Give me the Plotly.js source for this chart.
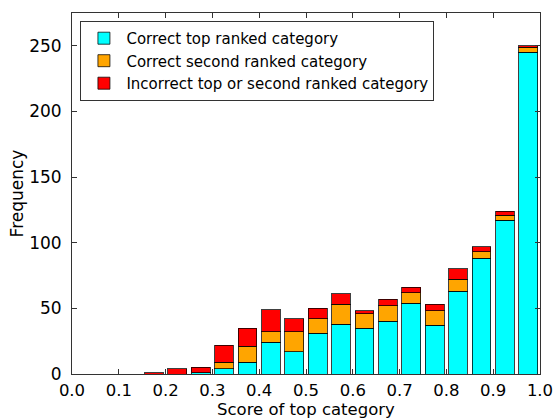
<!DOCTYPE html>
<html>
<head>
<meta charset="utf-8">
<script src="https://cdn.plot.ly/plotly-3.0.1.min.js"></script>
<style>html,body{margin:0;padding:0;background:#fff;}#chart{width:554px;height:419px;}</style>
</head>
<body>
<div id="chart"></div>
<script>
// Bin centres (bin width 0.05)
const binCenters = [0.025,0.075,0.125,0.175,0.225,0.275,0.325,0.375,0.425,0.475,
                    0.525,0.575,0.625,0.675,0.725,0.775,0.825,0.875,0.925,0.975];
const correctTop    = [0,0,0,0,0,1,4,9,24,17,31,38,35,40,54,37,63,88,117,245];
const correctSecond = [0,0,0,0,0,0,5,12,8,15,11,15,11,12,8,11,9,5,4,4];
const incorrect     = [0,0,0,1,4,4,13,14,17,10,8,8,2,5,4,5,8,4,3,1];
const seriesNames = ["Correct top ranked category","Correct second ranked category","Incorrect top or second ranked category"];
const seriesColors = ["#00ffff","#ffa500","#ff0000"];
const xTicks = [0,0.1,0.2,0.3,0.4,0.5,0.6,0.7,0.8,0.9,1.0];
const yTicks = [0,50,100,150,200,250];
const xTitle = 'Score of top category';
const yTitle = 'Frequency';

const barWidth = 0.04;
const traces = [correctTop, correctSecond, incorrect].map((vals, i) => ({
  type: 'bar',
  x: binCenters,
  y: vals,
  width: barWidth,
  name: seriesNames[i],
  marker: {color: seriesColors[i], line: {color: 'rgba(0,0,0,0.75)', width: 1}},
  hoverinfo: 'x+y'
}));

const font = {family: 'DejaVu Sans, sans-serif', size: 17, color: '#000'};
const xFont = {family: 'DejaVu Sans, sans-serif', size: 16.5, color: '#000'};
const layout = {
  width: 554, height: 419,
  margin: {l: 72, r: 14, t: 13, b: 45},
  paper_bgcolor: '#fff', plot_bgcolor: '#fff',
  barmode: 'stack',
  bargap: 0,
  font: font,
  showlegend: true,
  legend: {
    x: 0.018, y: 0.978, xanchor: 'left', yanchor: 'top',
    traceorder: 'normal',
    bordercolor: '#333', borderwidth: 1,
    bgcolor: '#fff',
    font: {family: 'DejaVu Sans, sans-serif', size: 15, color: '#000'},
    itemwidth: 35, tracegroupgap: 0
  },
  xaxis: {
    range: [0, 1],
    tickvals: xTicks,
    ticktext: xTicks.map(v => v.toFixed(1)),
    ticks: 'inside', ticklen: 5, tickcolor: '#333',
    ticklabelstandoff: 1,
    showline: true, linecolor: '#333', linewidth: 1, mirror: 'ticks',
    showgrid: false, zeroline: false,
    tickfont: xFont
  },
  yaxis: {
    range: [0, 275],
    tickvals: yTicks,
    ticks: 'inside', ticklen: 5, tickcolor: '#333',
    ticklabelstandoff: 6,
    showline: true, linecolor: '#333', linewidth: 1, mirror: 'ticks',
    showgrid: false, zeroline: false,
    tickfont: font,
    title: {text: yTitle, font: font, standoff: 1}
  },
  annotations: [{
    text: xTitle, xref: 'paper', yref: 'paper',
    x: 0.5, y: -0.0985, xanchor: 'center', yanchor: 'middle',
    showarrow: false, font: xFont
  }]
};
Plotly.newPlot('chart', traces, layout, {displayModeBar: false, staticPlot: true});
</script>
</body>
</html>
